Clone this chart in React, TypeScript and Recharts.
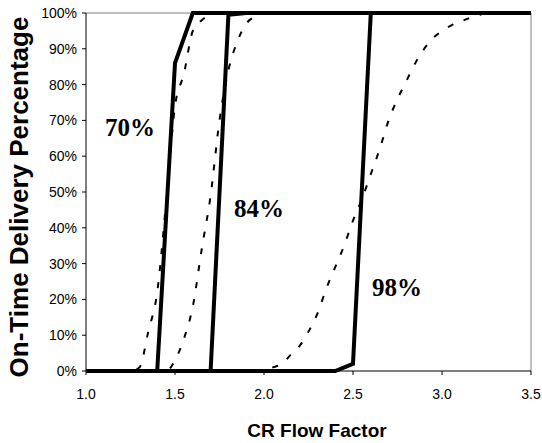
import { CartesianGrid, Line, LineChart, XAxis, YAxis } from 'recharts'

// CR flow factor breakpoints + on-time delivery % for each utilisation level
const solid70X = [1.0, 1.4, 1.5, 1.6, 3.5]
const solid70Y = [0, 0, 86, 100, 100]

const solid84X = [1.0, 1.7, 1.8, 1.9, 3.5]
const solid84Y = [0, 0, 99.5, 100, 100]

const solid98X = [1.0, 2.4, 2.5, 2.6, 3.5]
const solid98Y = [0, 0, 2, 100, 100]

const dashed70X = [1.0, 1.25, 1.3, 1.35, 1.4, 1.45, 1.5, 1.55, 1.6, 1.65, 1.7, 1.75, 3.5]
const dashed70Y = [0, 0, 1, 11, 22, 47, 74, 83, 95, 98, 99.5, 100, 100]

const dashed84X = [1.0, 1.45, 1.5, 1.55, 1.6, 1.65, 1.7, 1.75, 1.8, 1.85, 1.9, 1.95, 2.0, 3.5]
const dashed84Y = [0, 0, 3, 9, 18, 34, 49, 70, 84, 92, 97, 99, 100, 100]

const dashed98X = [
  1.0, 2.0, 2.05, 2.1, 2.15, 2.2, 2.25, 2.3, 2.35, 2.4, 2.45, 2.5, 2.55, 2.6, 2.65, 2.7, 2.75,
  2.8, 2.85, 2.9, 2.95, 3.0, 3.05, 3.1, 3.15, 3.2, 3.25, 3.5,
]
const dashed98Y = [
  0, 0, 1, 2, 4.5, 7, 11, 16, 23, 29, 35, 42, 48, 55, 62, 70, 76, 81, 86, 90, 93, 95, 96.5, 97.5,
  98.5, 99.3, 100, 100,
]

const X_TICKS = [1.0, 1.5, 2.0, 2.5, 3.0, 3.5]
const Y_TICKS = [0, 10, 20, 30, 40, 50, 60, 70, 80, 90, 100]

const toRows = (xs: number[], ys: number[]) => xs.map((x, i) => ({ x, y: ys[i] }))

const SANS = '"Liberation Sans", Arial, sans-serif'
const SERIF = '"Liberation Serif", "Times New Roman", serif'

const tickStyle = { fontSize: 14, fill: '#000', fontFamily: SANS }
const labelStyle = { fontSize: 25, fontWeight: 700, fontFamily: SERIF, fill: '#000' }

export default function App() {
  return (
    <div style={{ position: 'absolute', left: 0, top: 0, width: 542, height: 443, background: '#fff' }}>
      <LineChart width={542} height={443} margin={{ top: 13, right: 11, bottom: 0, left: 0 }}>
        <CartesianGrid
          stroke="#808080"
          horizontalCoordinatesGenerator={({ offset }: any) => [offset.top]}
          verticalCoordinatesGenerator={({ offset }: any) => [offset.left + offset.width]}
        />
        <XAxis
          type="number"
          dataKey="x"
          domain={[1, 3.5]}
          ticks={X_TICKS}
          tickFormatter={(v: number) => v.toFixed(1)}
          height={72}
          tickSize={4}
          tickMargin={14}
          tick={tickStyle}
          stroke="#000"
        />
        <YAxis
          type="number"
          domain={[0, 100]}
          ticks={Y_TICKS}
          tickFormatter={(v: number) => `${v}%`}
          width={86}
          tickSize={4}
          tickMargin={5}
          tick={tickStyle}
          stroke="#000"
        />
        <Line data={toRows(dashed70X, dashed70Y)} dataKey="y" type="monotone" stroke="#000" strokeWidth={2} strokeDasharray="6 11" dot={false} activeDot={false} isAnimationActive={false} />
        <Line data={toRows(dashed84X, dashed84Y)} dataKey="y" type="monotone" stroke="#000" strokeWidth={2} strokeDasharray="6 11" dot={false} activeDot={false} isAnimationActive={false} />
        <Line data={toRows(dashed98X, dashed98Y)} dataKey="y" type="monotone" stroke="#000" strokeWidth={2} strokeDasharray="6 11" dot={false} activeDot={false} isAnimationActive={false} />
        <Line data={toRows(solid70X, solid70Y)} dataKey="y" type="linear" stroke="#000" strokeWidth={4} dot={false} activeDot={false} isAnimationActive={false} />
        <Line data={toRows(solid84X, solid84Y)} dataKey="y" type="linear" stroke="#000" strokeWidth={4} dot={false} activeDot={false} isAnimationActive={false} />
        <Line data={toRows(solid98X, solid98Y)} dataKey="y" type="linear" stroke="#000" strokeWidth={4} dot={false} activeDot={false} isAnimationActive={false} />
        <text x={130} y={136} textAnchor="middle" style={labelStyle}>70%</text>
        <text x={259} y={217} textAnchor="middle" style={labelStyle}>84%</text>
        <text x={397} y={296} textAnchor="middle" style={labelStyle}>98%</text>
        <text x={317} y={437} textAnchor="middle" style={{ fontSize: 19, fontWeight: 700, fontFamily: SANS, fill: '#000' }}>
          CR Flow Factor
        </text>
        <text
          x={28}
          y={197}
          textAnchor="middle"
          transform="rotate(-90, 28, 197)"
          style={{ fontSize: 26, fontWeight: 700, fontFamily: SANS, fill: '#000' }}
        >
          On-Time Delivery Percentage
        </text>
      </LineChart>
    </div>
  )
}
